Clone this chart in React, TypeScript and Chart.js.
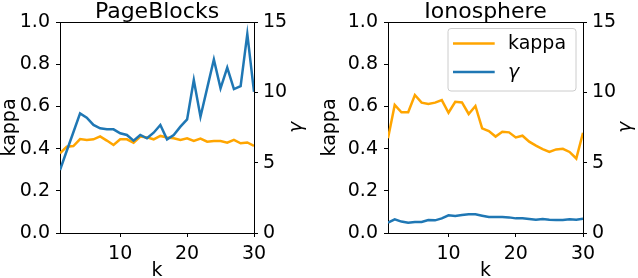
import React, { useEffect, useRef } from 'react';
import { Chart, registerables } from 'chart.js';

Chart.register(...registerables);

// ---- data ----
const K = [1, 2, 3, 4, 5, 6, 7, 8, 9, 10, 11, 12, 13, 14, 15, 16, 17, 18, 19, 20, 21, 22, 23, 24, 25, 26, 27, 28, 29, 30];
const X_TICKS = [10, 20, 30];

const pageBlocksKappa = [0.378, 0.409, 0.412, 0.445, 0.441, 0.444, 0.458, 0.438, 0.417, 0.444, 0.444, 0.428, 0.457, 0.453, 0.444, 0.46, 0.453, 0.449, 0.441, 0.449, 0.436, 0.447, 0.433, 0.436, 0.436, 0.428, 0.441, 0.425, 0.429, 0.413];
const pageBlocksGamma = [4.48, 5.83, 7.16, 8.5, 8.2, 7.68, 7.44, 7.37, 7.37, 7.09, 6.97, 6.56, 6.97, 6.73, 7.13, 7.68, 6.66, 6.97, 7.56, 8.08, 10.88, 8.27, 10.3, 12.34, 10.28, 11.75, 10.23, 10.44, 14.15, 10.04];

const ionosphereKappa = [0.449, 0.607, 0.572, 0.572, 0.654, 0.618, 0.611, 0.618, 0.63, 0.57, 0.622, 0.619, 0.564, 0.602, 0.496, 0.483, 0.457, 0.48, 0.477, 0.453, 0.461, 0.433, 0.414, 0.398, 0.384, 0.396, 0.399, 0.384, 0.353, 0.475];
const ionosphereGamma = [0.73, 0.97, 0.81, 0.73, 0.78, 0.78, 0.92, 0.9, 1.04, 1.26, 1.21, 1.28, 1.33, 1.33, 1.23, 1.14, 1.14, 1.14, 1.11, 1.04, 1.04, 0.99, 0.95, 0.99, 0.95, 0.93, 0.93, 0.97, 0.95, 1.02];

const KAPPA_COLOR = '#ffa500';
const GAMMA_COLOR = '#1f77b4';
const FONT = '"DejaVu Sans", sans-serif';

type PanelProps = {
  title: string;
  kappa: number[];
  gamma: number[];
  legend: boolean;
  width: number;
  leftW: number;
  rightW: number;
};

function makeDecor(title: string, legend: boolean) {
  return {
    id: 'decor',
    afterDraw(chart: any) {
      const { ctx, chartArea: a } = chart;
      ctx.save();
      // top spine
      ctx.strokeStyle = '#000';
      ctx.lineWidth = 1;
      ctx.beginPath();
      ctx.moveTo(a.left, Math.round(a.top) + 0.5);
      ctx.lineTo(a.right, Math.round(a.top) + 0.5);
      ctx.stroke();
      // title
      ctx.fillStyle = '#000';
      ctx.font = `22px ${FONT}`;
      ctx.textAlign = 'center';
      ctx.textBaseline = 'alphabetic';
      ctx.fillText(title, (a.left + a.right) / 2, 17.5);
      // right axis label
      ctx.save();
      ctx.translate(a.right + 43, (a.top + a.bottom) / 2);
      ctx.rotate(-Math.PI / 2);
      ctx.font = `italic 19px ${FONT}`;
      ctx.textBaseline = 'middle';
      ctx.textAlign = 'center';
      ctx.fillText('γ', 0, 0);
      ctx.restore();
      // legend
      if (legend) {
        const w = 128;
        const h = 62.5;
        const bx = a.right - 7 - w;
        const by = a.top + 6.5;
        const r = 3;
        ctx.beginPath();
        ctx.moveTo(bx + r, by);
        ctx.lineTo(bx + w - r, by);
        ctx.arcTo(bx + w, by, bx + w, by + r, r);
        ctx.lineTo(bx + w, by + h - r);
        ctx.arcTo(bx + w, by + h, bx + w - r, by + h, r);
        ctx.lineTo(bx + r, by + h);
        ctx.arcTo(bx, by + h, bx, by + h - r, r);
        ctx.lineTo(bx, by + r);
        ctx.arcTo(bx, by, bx + r, by, r);
        ctx.closePath();
        ctx.fillStyle = 'rgba(255,255,255,0.8)';
        ctx.fill();
        ctx.strokeStyle = '#cccccc';
        ctx.lineWidth = 1;
        ctx.stroke();
        const sets = [...chart.data.datasets].sort((p: any, q: any) => (p.legendIndex ?? 0) - (q.legendIndex ?? 0));
        sets.forEach((ds: any, i: number) => {
          const ly = by + 15 + i * 28.4;
          ctx.strokeStyle = ds.borderColor;
          ctx.lineWidth = 2.5;
          ctx.beginPath();
          ctx.moveTo(bx + 5, ly);
          ctx.lineTo(bx + 46.7, ly);
          ctx.stroke();
          ctx.fillStyle = '#000';
          ctx.font = ds.label === 'γ' ? `italic 19px ${FONT}` : `19px ${FONT}`;
          ctx.textAlign = 'left';
          ctx.textBaseline = 'middle';
          ctx.fillText(ds.label, bx + 60, ly + 1);
        });
      }
      ctx.restore();
    },
  };
}

function Panel({ title, kappa, gamma, legend, width, leftW, rightW }: PanelProps) {
  const ref = useRef<HTMLCanvasElement>(null);
  useEffect(() => {
    if (!ref.current) return;
    const tickFont = { family: FONT, size: 19 };
    const gridOpts = { drawOnChartArea: false, drawTicks: true, tickLength: 4, color: '#000', lineWidth: 1 };
    const chart = new Chart(ref.current, {
      type: 'line',
      data: {
        datasets: [
          {
            label: 'kappa',
            data: K.map((k, i) => ({ x: k, y: kappa[i] })),
            borderColor: KAPPA_COLOR,
            backgroundColor: KAPPA_COLOR,
            borderWidth: 2.5,
            pointRadius: 0,
            tension: 0,
            yAxisID: 'y',
            order: 2,
            legendIndex: 0,
          } as any,
          {
            label: 'γ',
            data: K.map((k, i) => ({ x: k, y: gamma[i] })),
            borderColor: GAMMA_COLOR,
            backgroundColor: GAMMA_COLOR,
            borderWidth: 2.5,
            pointRadius: 0,
            tension: 0,
            yAxisID: 'y1',
            order: 1,
            legendIndex: 1,
          } as any,
        ],
      },
      options: {
        animation: false,
        responsive: false,
        devicePixelRatio: 1,
        layout: { padding: { top: 22, left: 0, right: 0, bottom: 0 } },
        plugins: { legend: { display: false }, tooltip: { enabled: false }, title: { display: false } },
        scales: {
          x: {
            type: 'linear',
            position: 'bottom',
            min: 1,
            max: 30,
            afterBuildTicks: (s: any) => {
              s.ticks = X_TICKS.map((v) => ({ value: v }));
            },
            afterFit: (s: any) => {
              s.height = 45;
            },
            ticks: { font: tickFont, color: '#000', padding: 6, maxRotation: 0, autoSkip: false },
            grid: gridOpts,
            border: { display: true, color: '#000', width: 1 },
            title: { display: true, text: 'k', color: '#000', font: { family: FONT, size: 19, lineHeight: 1 }, padding: { top: 0, bottom: -3 } },
          },
          y: {
            type: 'linear',
            position: 'left',
            min: 0,
            max: 1,
            ticks: { stepSize: 0.2, font: tickFont, color: '#000', padding: 6, callback: (v: any) => Number(v).toFixed(1) },
            afterFit: (s: any) => {
              s.width = leftW;
            },
            grid: gridOpts,
            border: { display: true, color: '#000', width: 1 },
            title: { display: true, text: 'kappa', color: '#000', font: { family: FONT, size: 19, lineHeight: 1 }, padding: { top: 1, bottom: 0 } },
          },
          y1: {
            type: 'linear',
            position: 'right',
            min: 0,
            max: 15,
            ticks: { stepSize: 5, font: tickFont, color: '#000', padding: 5, callback: (v: any) => String(v) },
            afterFit: (s: any) => {
              s.width = rightW;
            },
            grid: gridOpts,
            border: { display: true, color: '#000', width: 1 },
          },
        },
      } as any,
      plugins: [makeDecor(title, legend)],
    });
    return () => chart.destroy();
  }, [title, kappa, gamma, legend, width, leftW, rightW]);
  return <canvas ref={ref} width={width} height={278} style={{ display: 'block', width, height: 278 }} />;
}

export default function App() {
  return (
    <div style={{ position: 'fixed', left: 0, top: 0, width: 638, height: 278, overflow: 'hidden', background: '#fff' }}>
      <div style={{ position: 'absolute', left: 0, top: 0 }}>
        <Panel title="PageBlocks" kappa={pageBlocksKappa} gamma={pageBlocksGamma} legend={false} width={320} leftW={60} rightW={66} />
      </div>
      <div style={{ position: 'absolute', left: 320, top: 0 }}>
        <Panel title="Ionosphere" kappa={ionosphereKappa} gamma={ionosphereGamma} legend={true} width={318} leftW={68} rightW={55} />
      </div>
    </div>
  );
}
